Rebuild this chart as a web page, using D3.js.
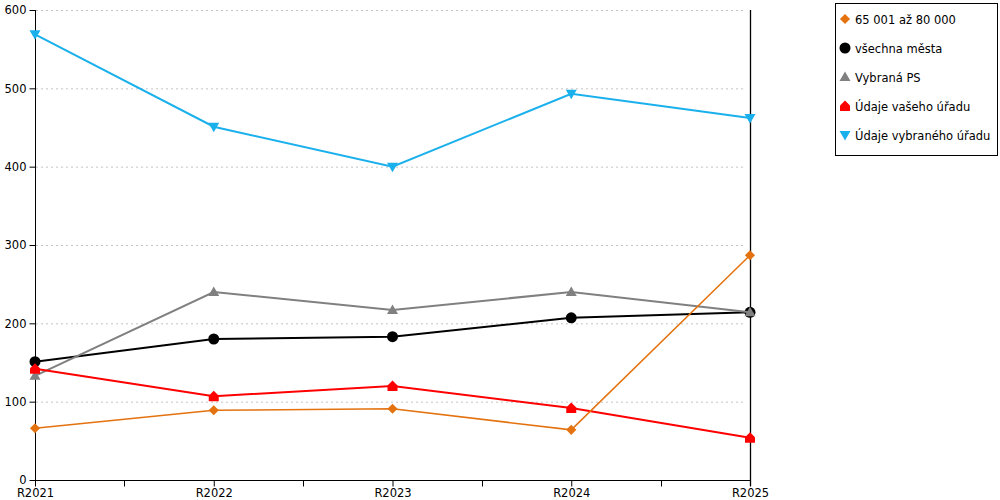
<!DOCTYPE html>
<html><head><meta charset="utf-8">
<script src="https://cdn.jsdelivr.net/npm/d3@7"></script>
<style>body{margin:0;background:#fff;font-family:"DejaVu Sans",Verdana,sans-serif;}</style>
</head><body>
<svg id="c" width="1000" height="500"></svg>
<script>
const categories = ["R2021","R2022","R2023","R2024","R2025"];
const yTicks = [0,100,200,300,400,500,600];
const seriesNames = ["65 001 až 80 000","všechna města","Vybraná PS","Údaje vašeho úřadu","Údaje vybraného úřadu"];
const valsOrange = [66, 89, 91, 64, 287];
const valsBlack = [151, 180, 183, 207, 214];
const valsGray = [133, 240, 217, 240, 214];
const valsRed = [142, 107, 120, 92, 54];
const valsBlue = [569, 451, 400, 493, 462];
const colors = ["#e4720f","#000000","#808080","#ff0000","#1ab0ec"];

const svg = d3.select("#c");
const x = d3.scalePoint().domain(categories).range([35,750]);
const y = d3.scaleLinear().domain([0,600]).range([480,10]);
const FONT = "DejaVu Sans, Verdana, sans-serif";

// gridlines
svg.append("g").selectAll("line").data(yTicks.filter(d=>d>0)).join("line")
  .attr("x1",36).attr("x2",746).attr("y1",d=>y(d)+0.5).attr("y2",d=>y(d)+0.5)
  .attr("stroke","#c4c4c4").attr("stroke-dasharray","2,3").attr("stroke-width",1);

// y axis
const ya = svg.append("g").attr("transform","translate(35.5,0)")
  .call(d3.axisLeft(y).tickValues(yTicks).tickSize(6).tickPadding(3));
ya.select(".domain").attr("d","M0,"+(y(600))+"V486").attr("stroke","#000");
ya.selectAll("text").attr("font-family",FONT).attr("font-size",11.5).attr("fill","#000");

// x axis
const xa = svg.append("g").attr("transform","translate(0,480.5)")
  .call(d3.axisBottom(x).tickSize(6).tickPadding(2));
xa.select(".domain").attr("d","M35,0H750").attr("stroke","#000");
xa.selectAll("text").attr("font-family",FONT).attr("font-size",11.5).attr("fill","#000");
const mids = categories.slice(1).map((c,i)=>(x(c)+x(categories[i]))/2);
xa.selectAll(".minor").data(mids).join("line").attr("class","minor")
  .attr("x1",d=>Math.round(d)+0.5).attr("x2",d=>Math.round(d)+0.5).attr("y1",0).attr("y2",6).attr("stroke","#000");

// right vertical line
svg.append("line").attr("x1",x("R2025")+0.5).attr("x2",x("R2025")+0.5).attr("y1",y(600)).attr("y2",486)
  .attr("stroke","#000").attr("stroke-width",1.3);

// custom symbols
const symDiamond = {draw(ctx,size){const s=Math.sqrt(size)/2*1.35; ctx.moveTo(0,-s); ctx.lineTo(s,0); ctx.lineTo(0,s); ctx.lineTo(-s,0); ctx.closePath();}};
const symHouse = {draw(ctx,size){const s=Math.sqrt(size)/2; ctx.moveTo(0,-s*1.1); ctx.lineTo(s,-s*0.1); ctx.lineTo(s,s); ctx.lineTo(-s,s); ctx.lineTo(-s,-s*0.1); ctx.closePath();}};
const symDown = {draw(ctx,size){const s=Math.sqrt(size)/2; ctx.moveTo(-s*1.1,-s*0.8); ctx.lineTo(s*1.1,-s*0.8); ctx.lineTo(0,s*1.1); ctx.closePath();}};
const symUp = {draw(ctx,size){const s=Math.sqrt(size)/2; ctx.moveTo(-s*1.1,s*0.8); ctx.lineTo(s*1.1,s*0.8); ctx.lineTo(0,-s*1.1); ctx.closePath();}};
const symbols = [symDiamond, d3.symbolCircle, symUp, symHouse, symDown];
const sizes = [56, 95, 100, 100, 100];
const allVals = [valsOrange, valsBlack, valsGray, valsRed, valsBlue];
const drawOrder = [1,2,3,0,4];
const line = d3.line().x((d,i)=>x(categories[i])).y(d=>y(d));
drawOrder.forEach(k=>{
  const g = svg.append("g");
  g.append("path").attr("d",line(allVals[k])).attr("fill","none").attr("stroke",colors[k]).attr("stroke-width",k===0?1.5:2);
  g.selectAll("path.m").data(allVals[k]).join("path").attr("class","m")
    .attr("transform",(d,i)=>`translate(${x(categories[i])},${y(d)})`)
    .attr("d",d3.symbol().type(symbols[k]).size(sizes[k])).attr("fill",colors[k]);
});

// legend
const lg = svg.append("g");
lg.append("rect").attr("x",835.5).attr("y",3.5).attr("width",162).attr("height",152).attr("fill","#fff").attr("stroke","#000");
seriesNames.forEach((n,k)=>{
  const yy = 19 + k*29;
  lg.append("path").attr("transform",`translate(845,${yy})`).attr("d",d3.symbol().type(symbols[k]).size(sizes[k])).attr("fill",colors[k]);
  lg.append("text").attr("x",855).attr("y",yy+4.5).attr("font-size",11.5).attr("font-family",FONT).text(n);
});
</script>
</body></html>
